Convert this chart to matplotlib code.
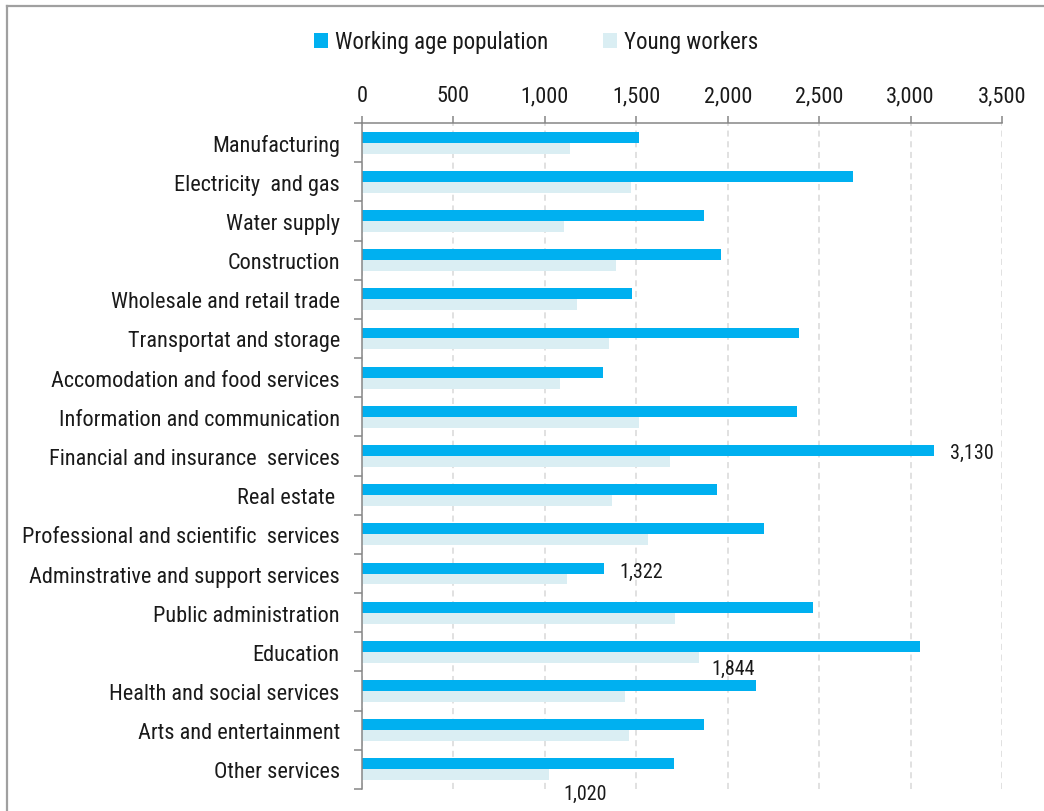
import numpy as np
import matplotlib
matplotlib.use("Agg")
from matplotlib import pyplot as plt
from matplotlib.lines import Line2D
from matplotlib.ticker import FuncFormatter, FixedLocator

plt.rcParams['font.family'] = ['Liberation Sans Narrow', 'Roboto Condensed', 'Liberation Sans', 'DejaVu Sans']

sectors = ['Manufacturing', 'Electricity  and gas', 'Water supply', 'Construction',
           'Wholesale and retail trade', 'Transportat and storage',
           'Accomodation and food services', 'Information and communication',
           'Financial and insurance  services', 'Real estate ',
           'Professional and scientific  services', 'Adminstrative and support services',
           'Public administration', 'Education', 'Health and social services',
           'Arts and entertainment', 'Other services']
working_age = [1514, 2687, 1871, 1962, 1474, 2390, 1320, 2381, 3130, 1940,
               2197, 1322, 2464, 3054, 2156, 1871, 1705]
young_workers = [1135, 1472, 1106, 1390, 1177, 1349, 1085, 1515, 1685, 1366,
                 1562, 1121, 1714, 1844, 1440, 1461, 1020]
x_ticks = [0, 500, 1000, 1500, 2000, 2500, 3000, 3500]

dark_blue = '#00B0F0'
pale_blue = '#DAEEF3'
axis_grey = '#868686'
text_col = '#1a1a1a'

fig = plt.figure(figsize=(10.44, 8.12), dpi=100)
ax = fig.add_axes([362 / 1044, 1 - 790 / 812, 640 / 1044, 666 / 812])

y = np.arange(len(sectors))
h = 0.28
bars_w = ax.barh(y - h / 2, working_age, h, color=dark_blue, label='Working age population')
bars_y = ax.barh(y + h / 2, young_workers, h, color=pale_blue, label='Young workers')

ax.set_xlim(0, 3500)
ax.set_ylim(len(sectors) - 0.5, -0.5)

# value axis on top
ax.xaxis.tick_top()
ax.xaxis.set_major_locator(FixedLocator(x_ticks))
ax.xaxis.set_major_formatter(FuncFormatter(lambda v, p: f'{int(v):,}'))
ax.tick_params(axis='x', direction='out', length=5, width=1.1, color=axis_grey,
               labelsize=16, pad=7, labelcolor=text_col)

ax.set_yticks(y)
ax.set_yticklabels(sectors)
ax.set_yticks(np.arange(len(sectors) + 1) - 0.5, minor=True)
ax.tick_params(axis='y', which='major', length=0, pad=16, labelsize=16, labelcolor=text_col)
ax.tick_params(axis='y', which='minor', direction='out', length=6, width=1.1, color=axis_grey)

for s in ['right', 'bottom']:
    ax.spines[s].set_visible(False)
for s in ['top', 'left']:
    ax.spines[s].set_color(axis_grey)
    ax.spines[s].set_linewidth(1.1)

ax.grid(axis='x', color='#d9d9d9', linestyle=(0, (4, 3)), linewidth=1.1)
ax.set_axisbelow(True)

# a few value labels
def label(v, i, dx, dy):
    ax.annotate(f'{v:,}', xy=(v, i), xytext=(dx, dy), textcoords='offset pixels',
                ha='center', va='center', fontsize=14.5, color=text_col)

label(working_age[8], 8 - h / 2, 38, -2)
label(working_age[11], 11 - h / 2, 37, -3)
label(young_workers[13], 13 + h / 2, 34, -11)
label(young_workers[16], 16 + h / 2, 37, -19)

fig.legend(handles=[bars_w, bars_y], loc='center', bbox_to_anchor=(536 / 1044, 1 - 43 / 812),
           ncol=2, frameon=False, fontsize=16.5, handlelength=0.6, handleheight=0.6,
           handletextpad=0.3, columnspacing=2.4, labelcolor=text_col)

# outer frame
fig.add_artist(Line2D([6.5 / 1044, 6.5 / 1044], [0, 1 - 6.5 / 812], color='#a0a0a0', lw=1.6,
                      transform=fig.transFigure))
fig.add_artist(Line2D([6.5 / 1044, 1], [1 - 6.5 / 812, 1 - 6.5 / 812], color='#a0a0a0', lw=1.6,
                      transform=fig.transFigure))

fig.savefig('out.png', dpi=100)
